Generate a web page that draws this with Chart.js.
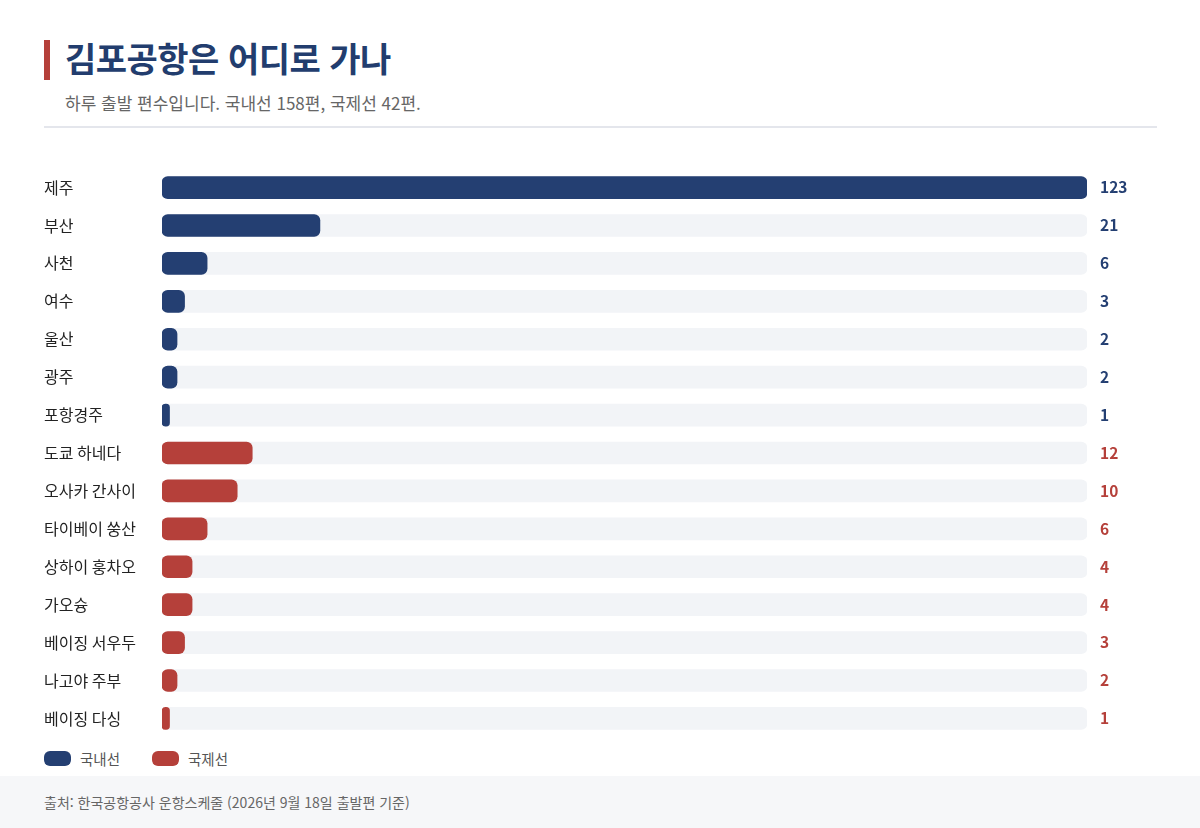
<!DOCTYPE html>
<html lang="ko">
<head>
<meta charset="utf-8">
<script src="https://cdn.jsdelivr.net/npm/chart.js@4"></script>
<style>
  html, body { margin: 0; padding: 0; background: #fff; }
  body { width: 1200px; height: 828px; position: relative; overflow: hidden;
         font-family: "Noto Sans CJK KR", "Noto Sans", sans-serif; }
  .accent { position: absolute; left: 44px; top: 40px; width: 6px; height: 40px; background: #b5403a; }
  .title { position: absolute; left: 65px; top: 35px; font-size: 34px; font-weight: 700;
           color: #223d6e; line-height: 46px; letter-spacing: -0.5px; }
  .sub { position: absolute; left: 65px; top: 91px; font-size: 17px; color: #666;
         line-height: 24px; }
  .rule { position: absolute; left: 44px; top: 126px; width: 1113px; height: 2px; background: #e4e6ec; }
  .wrap { position: absolute; left: 44px; top: 159px; width: 1113px; height: 588px; }
  .legend { position: absolute; left: 44px; top: 748px; height: 22px; font-size: 14.5px; color: #555; }
  .legend span { display: inline-flex; align-items: center; margin-right: 32px; }
  .legend i { display: inline-block; width: 27px; height: 15px; border-radius: 6px; margin-right: 9px; }
  .footer { position: absolute; left: 0; top: 776px; width: 1200px; height: 52px; background: #f6f7f9; }
  .footer div { position: absolute; left: 44px; top: 15px; font-size: 14px; color: #666; line-height: 22px; }
</style>
</head>
<body>
<div class="accent"></div>
<div class="title">김포공항은 어디로 가나</div>
<div class="sub">하루 출발 편수입니다. 국내선 158편, 국제선 42편.</div>
<div class="rule"></div>
<div class="wrap"><canvas id="chart"></canvas></div>
<div class="legend" id="legend"></div>
<div class="footer"><div>출처: 한국공항공사 운항스케줄 (2026년 9월 18일 출발편 기준)</div></div>

<script>
// destinations, daily departures
const destinations = ['제주', '부산', '사천', '여수', '울산', '광주', '포항경주',
  '도쿄 하네다', '오사카 간사이', '타이베이 쑹산', '상하이 훙차오', '가오슝',
  '베이징 서우두', '나고야 주부', '베이징 다싱'];
const flights = [123, 21, 6, 3, 2, 2, 1, 12, 10, 6, 4, 4, 3, 2, 1];
const routeType = ['domestic', 'domestic', 'domestic', 'domestic', 'domestic', 'domestic', 'domestic',
  'intl', 'intl', 'intl', 'intl', 'intl', 'intl', 'intl', 'intl'];
const groupNames = { domestic: '국내선', intl: '국제선' };

const COLORS = { domestic: '#243f72', intl: '#b5403a' };
const TRACK = '#f2f4f7';
const maxVal = Math.max(...flights);

// value labels to the right of the track
const valueLabels = {
  id: 'valueLabels',
  afterDatasetsDraw(chart) {
    const { ctx, chartArea } = chart;
    const meta = chart.getDatasetMeta(1);
    ctx.save();
    ctx.font = '700 15.5px "Noto Sans CJK KR", "Noto Sans", sans-serif';
    ctx.textBaseline = 'middle';
    ctx.textAlign = 'left';
    meta.data.forEach((bar, i) => {
      ctx.fillStyle = COLORS[routeType[i]];
      ctx.fillText(flights[i], chartArea.right + 13, bar.y);
    });
    ctx.restore();
  }
};

new Chart(document.getElementById('chart'), {
  type: 'bar',
  data: {
    labels: destinations,
    datasets: [
      {
        data: flights.map(() => maxVal),
        backgroundColor: TRACK,
        borderRadius: 6,
        borderSkipped: false,
        barThickness: 22,
        grouped: false,
        order: 2,
      },
      {
        data: flights,
        backgroundColor: routeType.map(t => COLORS[t]),
        borderRadius: 6,
        borderSkipped: false,
        barThickness: 22,
        grouped: false,
        order: 1,
      },
    ],
  },
  options: {
    indexAxis: 'y',
    responsive: true,
    maintainAspectRatio: false,
    animation: false,
    layout: { padding: { right: 70 } },
    plugins: { legend: { display: false }, tooltip: { enabled: false } },
    scales: {
      x: { display: false, min: 0, max: maxVal },
      y: {
        grid: { display: false },
        border: { display: false },
        afterFit: s => { s.width = 118; },
        ticks: {
          crossAlign: 'far',
          color: '#222',
          padding: 0,
          font: { size: 16, family: '"Noto Sans CJK KR", "Noto Sans", sans-serif' },
        },
      },
    },
  },
  plugins: [valueLabels],
});

document.getElementById('legend').innerHTML = Object.keys(groupNames)
  .map(k => `<span><i style="background:${COLORS[k]}"></i>${groupNames[k]}</span>`).join('');
</script>
</body>
</html>
